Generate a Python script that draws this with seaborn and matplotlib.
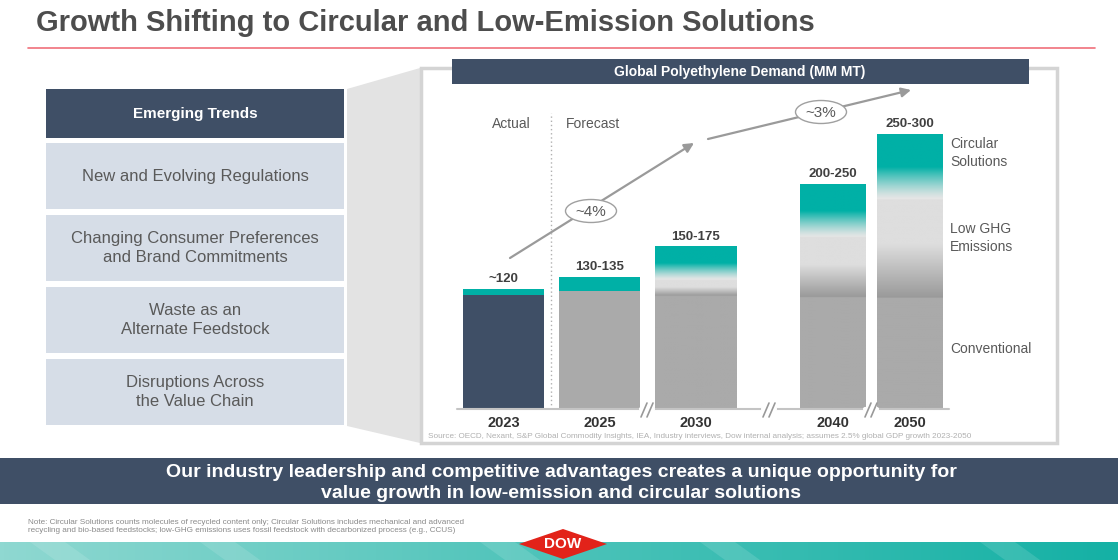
import numpy as np
import pandas as pd
import matplotlib
matplotlib.use("Agg")
import matplotlib.pyplot as plt
import matplotlib.colors as mcolors
from matplotlib.patches import Rectangle, Polygon, Ellipse, FancyArrowPatch
import seaborn as sns

# ---- data (MM MT) ----
years = ["2023", "2025", "2030", "2040", "2050"]
conventional = [114, 118, 113, 112, 111]
low_ghg = [0, 0, 16, 60, 99]
circular = [6, 14.5, 33.5, 53, 65]
range_labels = ["~120", "130-135", "150-175", "200-250", "250-300"]
growth_labels = ["~4%", "~3%"]
segment_names = ["Circular\nSolutions", "Low GHG\nEmissions", "Conventional"]
trend_items = ["New and Evolving Regulations",
               "Changing Consumer Preferences\nand Brand Commitments",
               "Waste as an\nAlternate Feedstock",
               "Disruptions Across\nthe Value Chain"]

title = "Growth Shifting to Circular and Low-Emission Solutions"
chart_title = "Global Polyethylene Demand (MM MT)"
banner = ("Our industry leadership and competitive advantages creates a unique opportunity for\n"
          "value growth in low-emission and circular solutions")
source = ("Source: OECD, Nexant, S&P Global Commodity Insights, IEA, Industry interviews, "
          "Dow internal analysis; assumes 2.5% global GDP growth 2023-2050")
note1 = ("Note: Circular Solutions counts molecules of recycled content only; Circular Solutions "
         "includes mechanical and advanced")
note2 = ("recycling and bio-based feedstocks; low-GHG emissions uses fossil feedstock with "
         "decarbonized process (e.g., CCUS)")

NAVY = "#3f4f66"
TEAL = "#00b0a6"
GRAY = "#aaaaaa"
DARK_GRAY = "#999999"
LIGHT_GRAY = "#dedede"
FADE = "#e6e6e6"
TEXT = "#595959"

sns.set_theme(style="white")
plt.rcParams["font.family"] = ["Liberation Sans", "DejaVu Sans"]

fig = plt.figure(figsize=(11.18, 5.6), dpi=100)

# background axes in pixel coordinates for the slide decoration
bg = fig.add_axes([0, 0, 1, 1])

bg.text(36, 23, title, fontsize=21, fontweight="bold", color="#4d4d4d", va="center")
bg.plot([28, 1095], [48, 48], color="#f0707a", lw=1.2)

# left panel
bg.add_patch(Polygon([(347, 89), (420, 68), (420, 443), (347, 426)], closed=True,
                     fc="#e3e3e3", ec="none"))
bg.add_patch(Rectangle((46, 89), 298, 49, fc=NAVY, ec="none"))
bg.text(195, 114, "Emerging Trends", fontsize=11, fontweight="bold", color="white",
        ha="center", va="center")
for k, item in enumerate(trend_items):
    top = 143 + 72 * k
    bg.add_patch(Rectangle((46, top), 298, 66, fc="#d6dde7", ec="none"))
    bg.text(195, top + 33, item, fontsize=12, color=TEXT, ha="center", va="center",
            linespacing=1.27)

# chart frame
bg.add_patch(Rectangle((421, 68), 636, 375, fc="white", ec="#d4d4d4", lw=2.5))
bg.add_patch(Rectangle((452, 59), 577, 25, fc=NAVY, ec="none"))
bg.text(740, 72, chart_title, fontsize=10, fontweight="bold", color="white",
        ha="center", va="center")
bg.text(428, 437, source, fontsize=5.85, color="#b0b0b0", va="center")

bg.text(511, 124, "Actual", fontsize=10, color=TEXT, ha="center", va="center")
bg.text(566, 124, "Forecast", fontsize=10, color=TEXT, ha="left", va="center")

# growth arrows
for (p0, p1) in [((510, 258), (694, 143)), ((708, 139), (911, 90))]:
    bg.add_patch(FancyArrowPatch(p0, p1, arrowstyle="-|>", mutation_scale=14,
                                 color="#9a9a9a", lw=1.6, shrinkA=0, shrinkB=0))
for (cx, cy), lab in zip([(591, 211), (821, 112)], growth_labels):
    bg.add_patch(Ellipse((cx, cy), 51, 23, fc="white", ec="#a0a0a0", lw=1))
    bg.text(cx, cy + 1, lab, fontsize=11, color=TEXT, ha="center", va="center")

# segment names on the right
for (cy, name) in zip([153, 238, 349], segment_names):
    bg.text(950, cy, name, fontsize=10, color=TEXT, ha="left", va="center", linespacing=1.3)

# bottom banner, note and footer strip
bg.add_patch(Rectangle((0, 458), 1118, 46, fc=NAVY, ec="none"))
bg.text(561, 483, banner, fontsize=14, fontweight="bold", color="white",
        ha="center", va="center", linespacing=1.3)
bg.text(28, 522, note1, fontsize=5.85, color="#8a8a8a", va="center")
bg.text(28, 530, note2, fontsize=5.85, color="#8a8a8a", va="center")

strip = mcolors.LinearSegmentedColormap.from_list("strip", ["#8fd8d1", "#4cc3b9", "#15b1a5"])
bg.imshow(np.linspace(0, 1, 256)[None, :], cmap=strip, extent=(0, 1118, 560, 542),
          aspect="auto", zorder=1)
for x0 in [30, 200, 480, 700, 980]:
    bg.add_patch(Polygon([(x0, 542), (x0 + 35, 542), (x0 + 60, 560), (x0 + 25, 560)],
                         closed=True, fc="white", alpha=0.12, ec="none", zorder=2))
bg.add_patch(Polygon([(519, 544), (563, 529), (607, 544), (563, 559)], closed=True,
                     fc="#e2231a", ec="none", zorder=3))
bg.text(563, 544, "DOW", fontsize=11, fontweight="bold", color="white",
        ha="center", va="center", zorder=4)

bg.set_xlim(0, 1118)
bg.set_ylim(560, 0)
bg.axis("off")

# ---- bar chart ----
L, R, TOP, BASE = 440, 1000, 109, 409
PX = 96.0        # pixels per category slot
X0 = 503.5       # pixel centre of first bar


def px2x(px):
    return (px - X0) / PX


ax = fig.add_axes([L / 1118, (560 - BASE) / 560, (R - L) / 1118, (BASE - TOP) / 560])
ax.set_facecolor("none")

df = pd.DataFrame({"year": years, "conventional": conventional,
                   "low_ghg": low_ghg, "circular": circular})
df["lower"] = df["conventional"] + df["low_ghg"]
df["total"] = df["lower"] + df["circular"]

sns.barplot(data=df, x="year", y="total", color=TEAL, saturation=1, errorbar=None,
            linewidth=0, ax=ax)
sns.barplot(data=df, x="year", y="lower", color=LIGHT_GRAY, saturation=1, errorbar=None,
            linewidth=0, ax=ax)
sns.barplot(data=df, x="year", y="conventional", hue="year",
            palette=[NAVY] + [GRAY] * 4, saturation=1, errorbar=None, legend=False,
            linewidth=0, ax=ax)

# uneven spacing / narrower long-range bars
centers = [0, 1, 2, 3.43, 4.23]
widths = [0.85, 0.85, 0.85, 0.68, 0.68]
n = len(years)
for j, p in enumerate(ax.patches):
    i = j % n
    p.set_x(centers[i] - widths[i] / 2)
    p.set_width(widths[i])


def bar_profile(c, l, k, n_pts=400):
    ys = np.linspace(0, c + l + k, n_pts)
    rgb = np.zeros((n_pts, 3))
    g, dg, lg, fd, tl = (np.array(mcolors.to_rgb(v)) for v in (GRAY, DARK_GRAY, LIGHT_GRAY, FADE, TEAL))
    for idx, y in enumerate(ys):
        if y < c:
            col = g
        elif y < c + l:
            t = (y - c) / l
            col = dg + (lg - dg) * min(t / 0.55, 1)
        else:
            t = (y - c - l) / k
            s = min(t / 0.5, 1)
            col = fd + (tl - fd) * s ** 1.3
        rgb[idx] = col
    return rgb[:, None, :]


for i in range(n):
    if low_ghg[i] > 0:
        tot = df["total"][i]
        ax.imshow(bar_profile(conventional[i], low_ghg[i], circular[i]),
                  extent=(centers[i] - widths[i] / 2, centers[i] + widths[i] / 2, 0, tot),
                  origin="lower", aspect="auto", interpolation="bilinear", zorder=3)
    ax.text(centers[i], df["total"][i] + 4, range_labels[i], ha="center", va="bottom",
            fontsize=9.5, fontweight="bold", color="#404040", zorder=4)

# baseline, divider and axis breaks
ax.plot([px2x(457), px2x(949)], [0, 0], color="#c4c4c4", lw=1.5, clip_on=False, zorder=4)
ax.plot([px2x(551), px2x(551)], [0, 296], color="#b0b0b0", lw=1, ls=(0, (1, 2)),
        clip_on=False, zorder=1)
for cx in [647, 769, 871]:
    ax.plot([px2x(cx - 6), px2x(cx + 6)], [0, 0], color="white", lw=3, clip_on=False, zorder=5)
    for off in (-3, 3):
        ax.plot([px2x(cx + off - 3), px2x(cx + off + 3)], [-8, 6], color="#999999",
                lw=1.2, clip_on=False, zorder=6)

ax.set_xticks(centers)
ax.set_xticklabels(years, fontsize=10.5, fontweight="bold", color="#333333")
ax.tick_params(axis="x", length=0, pad=5)
ax.set_yticks([])
ax.set_xlabel("")
ax.set_ylabel("")
ax.set_xlim(px2x(L), px2x(R))
ax.set_ylim(0, BASE - TOP)
sns.despine(ax=ax, left=True, bottom=True)

fig.savefig("out.png", dpi=100)
